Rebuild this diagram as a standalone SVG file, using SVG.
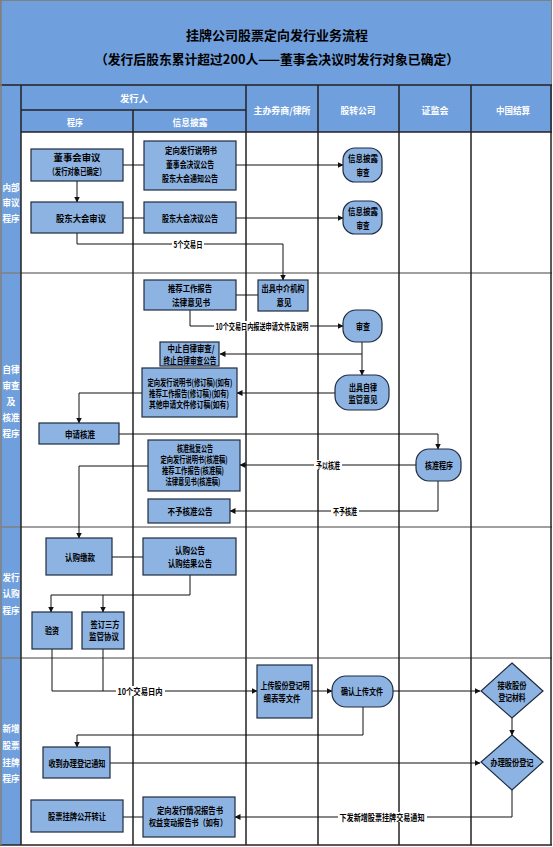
<svg xmlns="http://www.w3.org/2000/svg" width="553" height="847" viewBox="0 0 553 847">
<defs>
<marker id="ah" markerWidth="6" markerHeight="6" refX="5.5" refY="3" orient="auto" markerUnits="userSpaceOnUse">
<path d="M0,0 L6,3 L0,6 z" fill="#111"/>
</marker>
<style>
.hd{fill:#6f9fdc;}
.box{fill:#8db3e2;stroke:#1e2b40;stroke-width:1.2;}
.t{font-family:"Noto Sans CJK SC","Noto Sans",sans-serif;font-weight:bold;font-size:9px;fill:#000;text-anchor:middle;dominant-baseline:central;}
.w{font-family:"Noto Sans CJK SC","Noto Sans",sans-serif;font-weight:bold;font-size:9px;fill:#fff;text-anchor:middle;dominant-baseline:central;}
.ti{font-family:"Noto Sans CJK SC","Noto Sans",sans-serif;font-weight:bold;font-size:13px;fill:#000;text-anchor:middle;dominant-baseline:central;}
.c{fill:none;stroke:#111;stroke-width:1;}
.lane{stroke:#222;stroke-width:1.5;}
.row{stroke:#808080;stroke-width:1.5;}
.lb{fill:#fff;}
</style>
</defs>
<rect x="0" y="0" width="553" height="847" fill="#fff"/>
<g id="title">
<rect x="0.5" y="0.5" width="551" height="85" class="hd" stroke="#808080" stroke-width="1"/>
<text class="ti" x="277" y="34" textLength="182" lengthAdjust="spacingAndGlyphs">挂牌公司股票定向发行业务流程</text>
<text class="ti" x="277" y="58" textLength="364" lengthAdjust="spacingAndGlyphs">（发行后股东累计超过200人——董事会决议时发行对象已确定）</text>
</g>
<g id="header">
<rect x="0" y="85" width="552" height="47" class="hd"/>
<rect x="0" y="85" width="21" height="760" class="hd"/>
<text class="w" x="134" y="98" font-size="10" textLength="28" lengthAdjust="spacingAndGlyphs">发行人</text>
<text class="w" x="75" y="122" textLength="16" lengthAdjust="spacingAndGlyphs">程序</text>
<text class="w" x="190" y="122" textLength="35" lengthAdjust="spacingAndGlyphs">信息披露</text>
<text class="w" x="282" y="110" textLength="57" lengthAdjust="spacingAndGlyphs">主办券商/律所</text>
<text class="w" x="358" y="110" textLength="35" lengthAdjust="spacingAndGlyphs">股转公司</text>
<text class="w" x="435" y="110" textLength="27" lengthAdjust="spacingAndGlyphs">证监会</text>
<text class="w" x="513" y="110" textLength="34" lengthAdjust="spacingAndGlyphs">中国结算</text>
</g>
<g id="grid">
<line class="lane" x1="0" y1="85" x2="552" y2="85"/>
<line class="lane" x1="21" y1="110" x2="246" y2="110"/>
<line class="lane" x1="21" y1="132" x2="552" y2="132"/>
<line class="row" x1="0" y1="273" x2="552" y2="273"/>
<line class="row" x1="0" y1="527" x2="552" y2="527"/>
<line class="row" x1="0" y1="658" x2="552" y2="658"/>
<line class="lane" x1="0" y1="845" x2="552" y2="845"/>
<line class="lane" x1="21" y1="85" x2="21" y2="845"/>
<line class="lane" x1="133" y1="110" x2="133" y2="845"/>
<line class="lane" x1="246" y1="85" x2="246" y2="845"/>
<line class="lane" x1="318" y1="85" x2="318" y2="845"/>
<line class="lane" x1="399" y1="85" x2="399" y2="845"/>
<line class="lane" x1="471" y1="85" x2="471" y2="845"/>
<line class="lane" x1="551" y1="85" x2="551" y2="845"/>
<line x1="1" y1="0" x2="1" y2="845" stroke="#808080" stroke-width="1.5"/>
</g>
<g id="rowlabels">
<text class="w" x="11" y="187" textLength="17" lengthAdjust="spacingAndGlyphs">内部</text>
<text class="w" x="11" y="202" textLength="17" lengthAdjust="spacingAndGlyphs">审议</text>
<text class="w" x="11" y="218" textLength="17" lengthAdjust="spacingAndGlyphs">程序</text>
<text class="w" x="11" y="369" textLength="17" lengthAdjust="spacingAndGlyphs">自律</text>
<text class="w" x="11" y="385" textLength="17" lengthAdjust="spacingAndGlyphs">审查</text>
<text class="w" x="11" y="401">及</text>
<text class="w" x="11" y="417" textLength="17" lengthAdjust="spacingAndGlyphs">核准</text>
<text class="w" x="11" y="433" textLength="17" lengthAdjust="spacingAndGlyphs">程序</text>
<text class="w" x="11" y="577" textLength="17" lengthAdjust="spacingAndGlyphs">发行</text>
<text class="w" x="11" y="593" textLength="17" lengthAdjust="spacingAndGlyphs">认购</text>
<text class="w" x="11" y="610" textLength="17" lengthAdjust="spacingAndGlyphs">程序</text>
<text class="w" x="11" y="728" textLength="17" lengthAdjust="spacingAndGlyphs">新增</text>
<text class="w" x="11" y="745" textLength="17" lengthAdjust="spacingAndGlyphs">股票</text>
<text class="w" x="11" y="762" textLength="17" lengthAdjust="spacingAndGlyphs">挂牌</text>
<text class="w" x="11" y="778" textLength="17" lengthAdjust="spacingAndGlyphs">程序</text>
</g>
<g id="connectors">
<path class="c" d="M123,165 H144"/>
<path class="c" d="M236,165 H343" marker-end="url(#ah)"/>
<path class="c" d="M77,181 V202" marker-end="url(#ah)"/>
<path class="c" d="M123,218 H144"/>
<path class="c" d="M236,218 H343" marker-end="url(#ah)"/>
<path class="c" d="M77,233 V244 H283 V280" marker-end="url(#ah)"/>
<path class="c" d="M236,295 H258"/>
<path class="c" d="M190,310 V326 H343" marker-end="url(#ah)"/>
<path class="c" d="M362,342 V354 H220" marker-end="url(#ah)"/>
<path class="c" d="M362,354 V375" marker-end="url(#ah)"/>
<path class="c" d="M335,393 H237" marker-end="url(#ah)"/>
<path class="c" d="M142,393 H79 V423" marker-end="url(#ah)"/>
<path class="c" d="M119,434 H438 V449" marker-end="url(#ah)"/>
<path class="c" d="M416,465 H240" marker-end="url(#ah)"/>
<path class="c" d="M438,481 V511 H230" marker-end="url(#ah)"/>
<path class="c" d="M148,466 H79 V538" marker-end="url(#ah)"/>
<path class="c" d="M112,557 H143"/>
<path class="c" d="M190,575 V595 H51 V612" marker-end="url(#ah)"/>
<path class="c" d="M103,595 V612" marker-end="url(#ah)"/>
<path class="c" d="M52,649 V691 H257" marker-end="url(#ah)"/>
<path class="c" d="M103,649 V691"/>
<path class="c" d="M312,691 H332" marker-end="url(#ah)"/>
<path class="c" d="M393,691 H480" marker-end="url(#ah)"/>
<path class="c" d="M512,718 V735" marker-end="url(#ah)"/>
<path class="c" d="M363,707 V735 H77 V747" marker-end="url(#ah)"/>
<path class="c" d="M110,763 H480" marker-end="url(#ah)"/>
<path class="c" d="M512,790 V817 H235" marker-end="url(#ah)"/>
<path class="c" d="M143,817 H123"/>
<rect class="lb" x="172" y="239" width="32" height="10"/>
<text class="t" x="188" y="244" font-size="8" textLength="29" lengthAdjust="spacingAndGlyphs">5个交易日</text>
<rect class="lb" x="214" y="321" width="96" height="10"/>
<text class="t" x="262" y="326" font-size="8" textLength="93" lengthAdjust="spacingAndGlyphs">10个交易日内报送申请文件及说明</text>
<rect class="lb" x="314" y="460" width="28" height="10"/>
<text class="t" x="328" y="465" font-size="8" textLength="24" lengthAdjust="spacingAndGlyphs">予以核准</text>
<rect class="lb" x="331" y="506" width="28" height="10"/>
<text class="t" x="345" y="511" font-size="8" textLength="24" lengthAdjust="spacingAndGlyphs">不予核准</text>
<rect class="lb" x="116" y="686" width="49" height="10"/>
<text class="t" x="140" y="691" font-size="8" textLength="45" lengthAdjust="spacingAndGlyphs">10个交易日内</text>
<rect class="lb" x="338" y="812" width="89" height="10"/>
<text class="t" x="382" y="817" font-size="8" textLength="85" lengthAdjust="spacingAndGlyphs">下发新增股票挂牌交易通知</text>
</g>
<g id="n1"><rect class="box" x="31" y="149" width="92" height="32"/>
<text class="t" x="77" y="157" textLength="47" lengthAdjust="spacingAndGlyphs">董事会审议</text>
<text class="t" x="77" y="171" textLength="57" lengthAdjust="spacingAndGlyphs">（发行对象已确定）</text></g>
<g id="n2"><rect class="box" x="144" y="141" width="92" height="49"/>
<text class="t" x="191" y="150" textLength="52" lengthAdjust="spacingAndGlyphs">定向发行说明书</text>
<text class="t" x="190" y="164" textLength="48" lengthAdjust="spacingAndGlyphs">董事会决议公告</text>
<text class="t" x="190" y="178" textLength="56" lengthAdjust="spacingAndGlyphs">股东大会通知公告</text></g>
<g id="n3"><rect class="box" x="31" y="202" width="92" height="31"/>
<text class="t" x="81" y="218" textLength="50" lengthAdjust="spacingAndGlyphs">股东大会审议</text></g>
<g id="n4"><rect class="box" x="144" y="202" width="92" height="31"/>
<text class="t" x="190" y="218" textLength="56" lengthAdjust="spacingAndGlyphs">股东大会决议公告</text></g>
<g id="n5"><rect class="box" x="343" y="148" width="39" height="34" rx="12"/>
<text class="t" x="363" y="158" textLength="30" lengthAdjust="spacingAndGlyphs">信息披露</text>
<text class="t" x="363" y="172" textLength="13" lengthAdjust="spacingAndGlyphs">审查</text></g>
<g id="n6"><rect class="box" x="343" y="201" width="39" height="33" rx="12"/>
<text class="t" x="363" y="211" textLength="30" lengthAdjust="spacingAndGlyphs">信息披露</text>
<text class="t" x="363" y="225" textLength="13" lengthAdjust="spacingAndGlyphs">审查</text></g>
<g id="n7"><rect class="box" x="144" y="280" width="92" height="30"/>
<text class="t" x="190" y="288" textLength="44" lengthAdjust="spacingAndGlyphs">推荐工作报告</text>
<text class="t" x="191" y="302" textLength="38" lengthAdjust="spacingAndGlyphs">法律意见书</text></g>
<g id="n8"><rect class="box" x="258" y="280" width="50" height="31"/>
<text class="t" x="283" y="288" textLength="43" lengthAdjust="spacingAndGlyphs">出具中介机构</text>
<text class="t" x="284" y="302" textLength="15" lengthAdjust="spacingAndGlyphs">意见</text></g>
<g id="n9"><rect class="box" x="343" y="310" width="39" height="32" rx="13"/>
<text class="t" x="363" y="326" textLength="14" lengthAdjust="spacingAndGlyphs">审查</text></g>
<g id="n10"><rect class="box" x="160" y="342" width="59" height="24"/>
<text class="t" x="191" y="348" font-size="7" textLength="47" lengthAdjust="spacingAndGlyphs">中止自律审查/</text>
<text class="t" x="190" y="360" font-size="7" textLength="53" lengthAdjust="spacingAndGlyphs">终止自律审查公告</text></g>
<g id="n11"><rect class="box" x="335" y="375" width="54" height="35" rx="14"/>
<text class="t" x="363" y="387" textLength="28" lengthAdjust="spacingAndGlyphs">出具自律</text>
<text class="t" x="363" y="399" textLength="29" lengthAdjust="spacingAndGlyphs">监管意见</text></g>
<g id="n12"><rect class="box" x="142" y="368" width="95" height="49"/>
<text class="t" x="190" y="382" font-size="6.5" textLength="85" lengthAdjust="spacingAndGlyphs">定向发行说明书(修订稿)(如有)</text>
<text class="t" x="189" y="393" font-size="6.5" textLength="80" lengthAdjust="spacingAndGlyphs">推荐工作报告(修订稿)(如有)</text>
<text class="t" x="189" y="404" font-size="6.5" textLength="80" lengthAdjust="spacingAndGlyphs">其他申请文件修订稿(如有)</text></g>
<g id="n13"><rect class="box" x="39" y="423" width="80" height="21"/>
<text class="t" x="80" y="434" textLength="30" lengthAdjust="spacingAndGlyphs">申请核准</text></g>
<g id="n14"><rect class="box" x="416" y="449" width="45" height="32" rx="13"/>
<text class="t" x="439" y="465" textLength="28" lengthAdjust="spacingAndGlyphs">核准程序</text></g>
<g id="n15"><rect class="box" x="148" y="440" width="92" height="51"/>
<text class="t" x="195" y="448" font-size="7" textLength="36" lengthAdjust="spacingAndGlyphs">核准批复公告</text>
<text class="t" x="194" y="459" font-size="7" textLength="67" lengthAdjust="spacingAndGlyphs">定向发行说明书(核准稿)</text>
<text class="t" x="193" y="470" font-size="7" textLength="62" lengthAdjust="spacingAndGlyphs">推荐工作报告(核准稿)</text>
<text class="t" x="193" y="481" font-size="7" textLength="55" lengthAdjust="spacingAndGlyphs">法律意见书(核准稿)</text></g>
<g id="n16"><rect class="box" x="148" y="499" width="82" height="24"/>
<text class="t" x="190" y="511" textLength="45" lengthAdjust="spacingAndGlyphs">不予核准公告</text></g>
<g id="n17"><rect class="box" x="46" y="538" width="66" height="37"/>
<text class="t" x="80" y="557" textLength="30" lengthAdjust="spacingAndGlyphs">认购缴款</text></g>
<g id="n18"><rect class="box" x="143" y="538" width="93" height="37"/>
<text class="t" x="190" y="550" textLength="30" lengthAdjust="spacingAndGlyphs">认购公告</text>
<text class="t" x="190" y="563" textLength="44" lengthAdjust="spacingAndGlyphs">认购结果公告</text></g>
<g id="n19"><rect class="box" x="32" y="612" width="40" height="37"/>
<text class="t" x="52" y="630" textLength="14" lengthAdjust="spacingAndGlyphs">验资</text></g>
<g id="n20"><rect class="box" x="82" y="612" width="42" height="37"/>
<text class="t" x="105" y="624" textLength="29" lengthAdjust="spacingAndGlyphs">签订三方</text>
<text class="t" x="104" y="636" textLength="30" lengthAdjust="spacingAndGlyphs">监管协议</text></g>
<g id="n21"><rect class="box" x="257" y="665" width="55" height="53"/>
<text class="t" x="285" y="685" textLength="49" lengthAdjust="spacingAndGlyphs">上传股份登记明</text>
<text class="t" x="282" y="698" textLength="37" lengthAdjust="spacingAndGlyphs">细表等文件</text></g>
<g id="n22"><rect class="box" x="332" y="676" width="61" height="31" rx="14"/>
<text class="t" x="362" y="691" textLength="42" lengthAdjust="spacingAndGlyphs">确认上传文件</text></g>
<g id="n23"><polygon class="box" points="512,663 543,691 512,718 481,691"/>
<text class="t" x="512" y="685" textLength="29" lengthAdjust="spacingAndGlyphs">接收股份</text>
<text class="t" x="512" y="697" textLength="27" lengthAdjust="spacingAndGlyphs">登记材料</text></g>
<g id="n24"><polygon class="box" points="512,735 543,762 512,790 481,762"/>
<text class="t" x="512" y="762" textLength="43" lengthAdjust="spacingAndGlyphs">办理股份登记</text></g>
<g id="n25"><rect class="box" x="43" y="747" width="67" height="31"/>
<text class="t" x="77" y="763" textLength="57" lengthAdjust="spacingAndGlyphs">收到办理登记通知</text></g>
<g id="n26"><rect class="box" x="143" y="797" width="92" height="40"/>
<text class="t" x="190" y="810" textLength="66" lengthAdjust="spacingAndGlyphs">定向发行情况报告书</text>
<text class="t" x="188" y="822" textLength="78" lengthAdjust="spacingAndGlyphs">权益变动报告书（如有）</text></g>
<g id="n27"><rect class="box" x="31" y="800" width="92" height="32"/>
<text class="t" x="77" y="816" textLength="58" lengthAdjust="spacingAndGlyphs">股票挂牌公开转让</text></g>
</svg>
